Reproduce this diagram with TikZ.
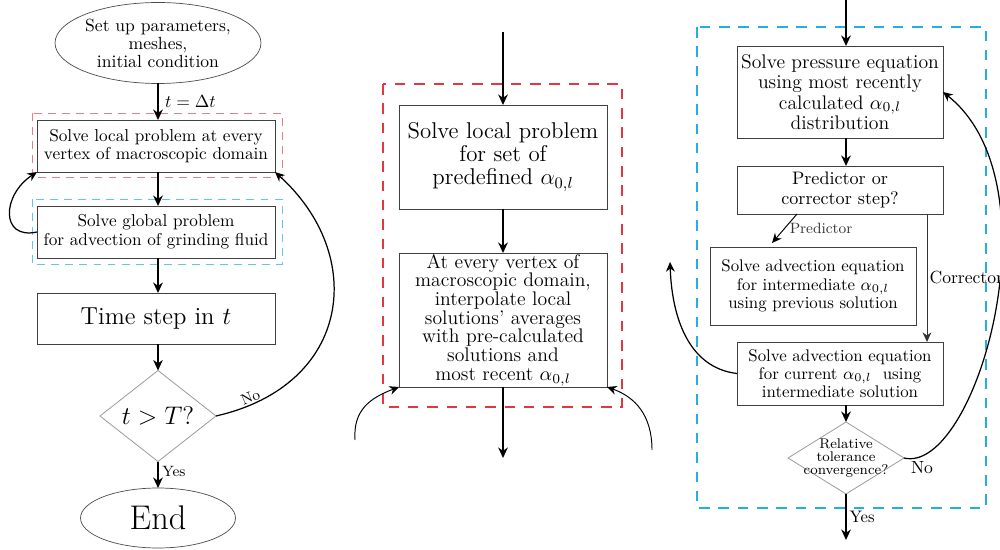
\RequirePackage{fix-cm}
\documentclass[tikz,border=0pt]{standalone}
\usepackage{fontspec}
\usetikzlibrary{shapes.geometric,arrows.meta,calc}
\definecolor{dred}{RGB}{225,55,65}
\definecolor{dblue}{RGB}{35,175,225}
\definecolor{lred}{RGB}{232,125,135}
\definecolor{lblue}{RGB}{95,200,232}
\newcommand\myfs[2]{\fontsize{#1}{#2}\selectfont}
\tikzset{
  every node/.style={inner sep=0pt, outer sep=0pt},
  box/.style={draw=black!75, line width=0.5pt, rectangle, align=center},
  ell/.style={draw=black!70, line width=0.4pt, ellipse, align=center},
  dia/.style={draw=black!40, line width=0.45pt, diamond, align=center},
  arr/.style={-{Stealth[length=6pt,width=5.5pt]}, line width=0.85pt},
  tarr/.style={-{Stealth[length=5.5pt,width=5pt]}, line width=0.55pt},
  lframe/.style={line width=0.5pt, dash pattern=on 4.5pt off 3.5pt},
  dframe/.style={line width=0.7pt, dash pattern=on 6pt off 5pt},
  lbl/.style={font=\myfs{8.5}{9}},
}
\begin{document}
\begin{tikzpicture}[x=0.02cm, y=-0.02cm]
\useasboundingbox (0,0) rectangle (1000,550);

% ---------------- left column ----------------
\node[ell, minimum width=4cm, minimum height=1.62cm, font=\myfs{10}{10.2}] (start) at (158,43) {Set up parameters,\\meshes,\\initial condition};
\draw[lframe, lred] (32,113) rectangle (282,177);
\draw[lframe, lblue] (32,199) rectangle (282,264);
\node[box, minimum width=4.76cm, minimum height=1.04cm, font=\myfs{9.8}{10.6}] (lb1) at (156,146) {Solve local problem at every\\vertex of macroscopic domain};
\node[box, minimum width=4.76cm, minimum height=1.04cm, font=\myfs{9.8}{10.6}] (lb2) at (156,232) {Solve global problem\\for advection of grinding fluid};
\node[box, minimum width=4.76cm, minimum height=1.02cm, font=\myfs{14}{16}] (lt) at (156,318.5) {Time step in $t$};
\node[dia, minimum width=2.32cm, minimum height=1.46cm, font=\myfs{14.5}{16}] (ld) at (158,416) {$t>T$?};
\node[ell, minimum width=3.1cm, minimum height=1.2cm, font=\myfs{19.5}{22}] (lend) at (158,518) {End};

\draw[arr] (start.south) -- node[right, xshift=4pt, font=\myfs{10}{11}] {$t=\Delta t$} (start.south |- lb1.north);
\draw[arr] (lb1.south -| start.south) -- (lb2.north -| start.south);
\draw[arr] (lb2.south -| start.south) -- (lt.north -| start.south);
\draw[arr] (lt.south -| start.south) -- (ld.north);
\draw[arr] (ld.south) -- node[right, xshift=2.5pt, yshift=2pt, lbl] {Yes} (lend.north);
\draw[tarr, line width=0.7pt] (lb2.west) .. controls (0,240) and (2,195) .. (lb1.south west);
\draw[tarr, line width=0.7pt] (ld.east) .. controls (352,385) and (367,255) .. node[pos=0.1, sloped, above, yshift=1pt, lbl] {No} (lb1.south east);

% ---------------- middle column ----------------
\coordinate (mtop) at (503,32);
\coordinate (mbot) at (503,458);
\coordinate (mlin) at (355,440);
\coordinate (mrin) at (652,450);
\draw[dframe, dred] (383,84) rectangle (622,407);
\node[box, minimum width=4.16cm, minimum height=2.08cm, font=\myfs{13}{13}] (mb1) at (503,157) {Solve local problem\\for set of\\predefined $\alpha_{0,l}$};
\node[box, minimum width=4.16cm, minimum height=2.68cm, font=\myfs{11.2}{10.6}] (mb2) at (503,320) {At every vertex of\\macroscopic domain,\\interpolate local\\solutions' averages\\with pre-calculated\\solutions and\\most recent $\alpha_{0,l}$};
\draw[arr] (mtop) -- (mb1.north);
\draw[arr] (mb1.south) -- (mb2.north);
\draw[arr] (mb2.south) -- (mbot);
\draw[tarr] (mlin) .. controls (353,410) and (370,398) .. (mb2.south west);
\draw[tarr] (mrin) .. controls (652,415) and (635,397) .. (mb2.south east);

% ---------------- right column ----------------
\coordinate (rtop) at (846,0);
\coordinate (rbot) at (846,540);
\coordinate (rout) at (670,262);
\draw[dframe, dblue] (697,27) rectangle (986,508);
\node[box, minimum width=4.12cm, minimum height=1.84cm, font=\myfs{11.2}{11.6}] (rb1) at (840,92) {Solve pressure equation\\using most recently\\calculated $\alpha_{0,l}$\\distribution};
\node[box, minimum width=4.12cm, minimum height=0.96cm, font=\myfs{10.3}{11.5}] (rb2) at (840,190) {Predictor or\\corrector step?};
\node[box, minimum width=4.12cm, minimum height=1.56cm, font=\myfs{9.6}{10.4}] (rb3) at (813,286) {Solve advection equation\\for intermediate $\alpha_{0,l}$\\using previous solution};
\node[box, minimum width=4.12cm, minimum height=1.26cm, font=\myfs{9.6}{10.4}] (rb4) at (840,373.5) {Solve advection equation\\for current $\alpha_{0,l}$\ \ using\\intermediate solution};
\node[dia, minimum width=2.32cm, minimum height=1.44cm] (rd) at (846,458) {};
\node[align=center, font=\myfs{8}{7.4}] (rdt) at (rd.center) {Relative\\tolerance\\convergence?};

\draw[arr] (rtop) -- (rb1.north -| rtop);
\draw[arr] (rb1.south -| rtop) -- (rb2.north -| rtop);
\draw[tarr] ([xshift=-0.86cm]rb2.south) -- node[right, xshift=3pt, lbl, text=black!80] {Predictor} ([xshift=-0.82cm,yshift=0.08cm]rb3.north);
\draw[tarr, draw=black!80] ([xshift=1.74cm]rb2.south) -- node[right, xshift=1.5pt, font=\myfs{10}{11}] {Corrector} ([xshift=1.74cm]rb4.north);
\draw[arr] (rb4.south -| rtop) -- (rd.north);
\draw[arr] (rd.south) -- node[right, xshift=2pt, font=\myfs{9.5}{10}] {Yes} (rbot);
\draw[tarr, line width=0.7pt] (rb4.west) .. controls (690,368) and (672,320) .. (rout);
\draw[tarr, line width=0.7pt] (rd.east) .. controls (975,475) and (1060,185) .. node[pos=0, anchor=north west, xshift=4pt, yshift=-2pt, font=\myfs{10}{11}] {No} (rb1.east);
\end{tikzpicture}
\end{document}
